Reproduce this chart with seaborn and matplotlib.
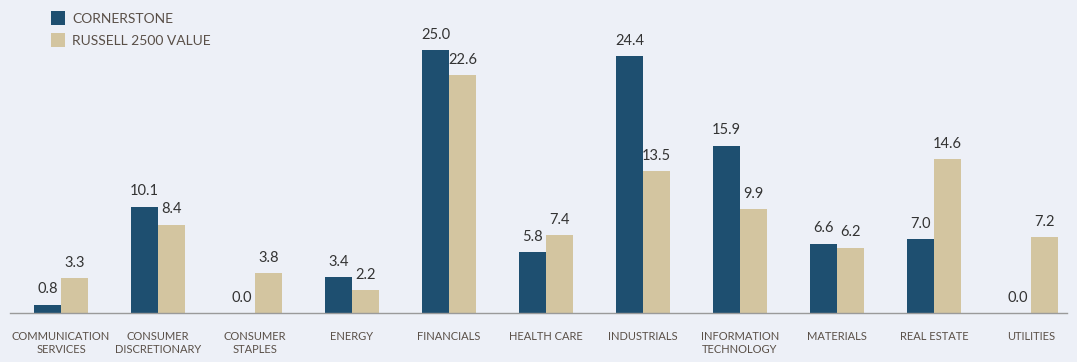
import matplotlib
matplotlib.use("Agg")
import matplotlib.pyplot as plt
import seaborn as sns
import pandas as pd
from matplotlib.patches import Patch

categories = ["COMMUNICATION\nSERVICES", "CONSUMER\nDISCRETIONARY", "CONSUMER\nSTAPLES",
              "ENERGY", "FINANCIALS", "HEALTH CARE", "INDUSTRIALS",
              "INFORMATION\nTECHNOLOGY", "MATERIALS", "REAL ESTATE", "UTILITIES"]
cornerstone = [0.8, 10.1, 0.0, 3.4, 25.0, 5.8, 24.4, 15.9, 6.6, 7.0, 0.0]
russell = [3.3, 8.4, 3.8, 2.2, 22.6, 7.4, 13.5, 9.9, 6.2, 14.6, 7.2]
series_names = ["CORNERSTONE", "RUSSELL 2500 VALUE"]

bg = "#edf0f7"
dark = "#1e4f70"
light = "#d3c5a0"
txt = "#5a5048"

df = pd.DataFrame({
    "sector": categories * 2,
    "weight": cornerstone + russell,
    "series": [series_names[0]] * len(categories) + [series_names[1]] * len(categories),
})

sns.set_theme(style="white")
plt.rcParams["font.family"] = ["Lato", "DejaVu Sans"]

fig = plt.figure(figsize=(10.77, 3.62), dpi=100, facecolor=bg)
ax = fig.add_axes([10 / 1077, 49 / 362, 1057 / 1077, 313 / 362])
ax.set_facecolor(bg)

sns.barplot(data=df, x="sector", y="weight", hue="series", order=categories,
            hue_order=series_names, palette=[dark, light], width=0.557, gap=0,
            saturation=1, ax=ax, legend=False, edgecolor="none", linewidth=0)

for container in ax.containers:
    ax.bar_label(container, fmt="%.1f", padding=6, fontsize=10.5, color="#333333")

ax.set_xlim(-0.526, 10.37)
ax.set_ylim(0, 29.75)
ax.set_xlabel("")
ax.set_ylabel("")
ax.set_yticks([])
for s in ["top", "left", "right"]:
    ax.spines[s].set_visible(False)
ax.spines["bottom"].set_color("#9a9a9a")
ax.spines["bottom"].set_linewidth(1.0)
ax.tick_params(axis="x", which="major", length=0, pad=13, labelsize=8, labelcolor=txt)
ax.set_xticks([-0.526 + 0.01, 10.37 - 0.01], minor=True)
ax.tick_params(axis="x", which="minor", length=4, direction="inout", color="#9a9a9a")

handles = [Patch(facecolor=dark, edgecolor="none", label=series_names[0]),
           Patch(facecolor=light, edgecolor="none", label=series_names[1])]
leg = ax.legend(handles=handles, loc="upper left", bbox_to_anchor=(30 / 1057, 1.0),
                frameon=False, handlelength=1.0, handleheight=1.2, handletextpad=0.5,
                labelspacing=0.55, fontsize=10, borderaxespad=0.4)
for t in leg.get_texts():
    t.set_color(txt)

fig.savefig("out.png", dpi=100, facecolor=bg)
